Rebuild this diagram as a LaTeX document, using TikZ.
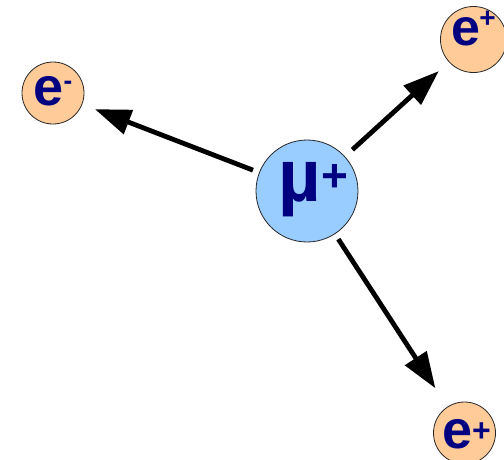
\documentclass[tikz,border=0pt]{standalone}
\usepackage{fontspec}
\setmainfont{Liberation Sans}
\usetikzlibrary{arrows.meta}
\definecolor{muonblue}{RGB}{153,204,255}
\definecolor{leptonpeach}{RGB}{255,204,153}
\definecolor{chargenavy}{RGB}{0,0,128}

\begin{document}
\begin{tikzpicture}[x=1pt, y=1pt,
    particle/.style={circle, draw=black!85, line width=0.8pt, inner sep=0pt, text=chargenavy, font=\bfseries},
    muon/.style={particle, fill=muonblue, minimum size=102pt},
    lepton/.style={particle, fill=leptonpeach, minimum size=62pt},
    decay/.style={line width=4.8pt, -{Triangle[length=36pt,width=25pt]}}]
    \useasboundingbox (0,0) rectangle (504,-459);
    % decaying muon
    \node[muon, text height=38pt, text depth=17pt] (mu) at (307,-191)
        {\fontsize{74}{74}\selectfont\kern13pt\textmu\kern1pt\raisebox{10pt}{\fontsize{46}{46}\selectfont +}};
    % decay products
    \node[lepton, text height=30pt, text depth=6pt] (em) at (53,-93)
        {\fontsize{54}{54}\selectfont e\raisebox{16pt}{\fontsize{26}{26}\selectfont -}};
    \node[lepton, minimum size=57pt, text height=30pt, text depth=19pt] (epa) at (473.5,-39.5)
        {\fontsize{52}{52}\selectfont e\kern-1pt\raisebox{18pt}{\fontsize{28}{28}\selectfont +}};
    \node[lepton, text height=30pt, text depth=0pt] (epb) at (464.5,-433)
        {\fontsize{54}{54}\selectfont\kern4pt e\raisebox{7pt}{\fontsize{32}{32}\selectfont +}};
    % arrows
    \draw[decay, shorten <=6.5pt, shorten >=13.5pt] (mu) -- (em);
    \draw[decay, shorten <=10pt, shorten >=13.5pt] (mu) -- (epa);
    \draw[decay, shorten <=6pt, shorten >=22pt] (mu) -- (epb);
\end{tikzpicture}
\end{document}
